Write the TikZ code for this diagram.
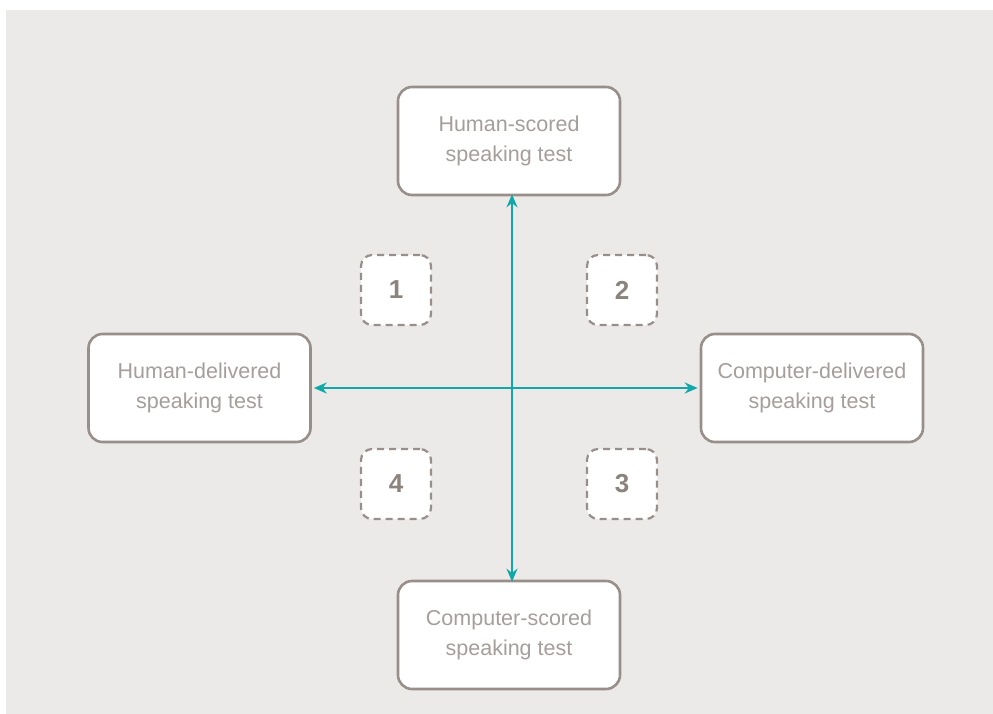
\documentclass[tikz,border=0pt]{standalone}
\usepackage{fontspec}
\setmainfont{Liberation Sans}
\usetikzlibrary{arrows.meta}
\definecolor{paper}{RGB}{236,234,232}
\definecolor{frame}{RGB}{152,143,138}
\definecolor{labelgray}{RGB}{166,158,154}
\definecolor{numgray}{RGB}{140,131,126}
\definecolor{teal}{RGB}{18,168,170}
\tikzset{
  testbox/.style={draw=frame, line width=2.6pt, fill=white, rounded corners=14pt,
    minimum width=222pt, minimum height=108pt, align=center,
    text=labelgray, font=\fontsize{21.5}{30}\selectfont,
    execute at begin node={\rule{0pt}{21pt}}},
  quadbox/.style={draw=frame, line width=2.2pt, dash pattern=on 7pt off 5pt,
    fill=white, rounded corners=11pt, minimum width=70pt, minimum height=70pt,
    text=numgray, font=\fontsize{26}{26}\selectfont\bfseries},
  axis/.style={draw=teal, line width=2.2pt, {Stealth[length=13pt,width=11pt]}-{Stealth[length=13pt,width=11pt]}}
}
\begin{document}
\begin{tikzpicture}[x=1pt,y=-1pt]
  \useasboundingbox (0,0) rectangle (993,714);
  \fill[white] (0,0) rectangle (993,714);
  \fill[paper] (6,10) rectangle (993,714);

  \node[testbox] (top) at (509,141) {Human-scored\\speaking test};
  \node[testbox] (left) at (199.5,388) {Human-delivered\\speaking test};
  \node[testbox] (right) at (812,388) {Computer-delivered\\speaking test};
  \node[testbox] (bottom) at (509,635) {Computer-scored\\speaking test};

  \node[quadbox] (q1) at (396,290) {1};
  \node[quadbox] (q2) at (622,290) {2};
  \node[quadbox] (q3) at (622,484) {3};
  \node[quadbox] (q4) at (396,484) {4};

  \coordinate (vtop) at (512,0 |- top.south);
  \coordinate (vbot) at (512,0 |- bottom.north);
  \draw[axis] ([yshift=2pt]vtop) -- ([yshift=-2pt]vbot);
  \draw[axis] ([xshift=2pt]left.east |- 0,388) -- ([xshift=-2pt]right.west |- 0,388);
\end{tikzpicture}
\end{document}
